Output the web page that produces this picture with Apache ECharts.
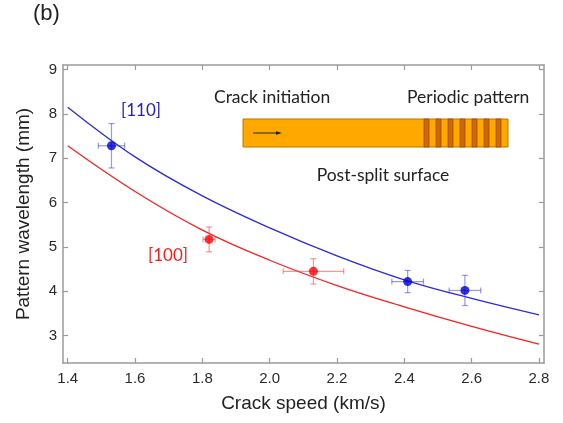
<!DOCTYPE html>
<html>
<head>
<meta charset="utf-8">
<script src="https://cdn.jsdelivr.net/npm/echarts@6/dist/echarts.min.js"></script>
<style>
html,body{margin:0;padding:0;background:#fff;}
#c{width:563px;height:423px;}
</style>
</head>
<body>
<div id="c"></div>
<script>
// ---- data ----
const xTicks = [1.4, 1.6, 1.8, 2.0, 2.2, 2.4, 2.6, 2.8];
const yTicks = [3, 4, 5, 6, 7, 8, 9];

const curveX = [1.4, 1.6, 1.8, 2.0, 2.2, 2.4, 2.6, 2.8];
const blueCurve = [8.15, 7.03, 6.15, 5.43, 4.80, 4.26, 3.84, 3.47];
const redCurve  = [7.28, 6.25, 5.38, 4.70, 4.13, 3.65, 3.21, 2.81];

const blueX    = [1.53, 2.41, 2.58];
const blueY    = [7.28, 4.22, 4.02];
const blueXErr = [0.039, 0.047, 0.047];
const blueYErr = [0.50, 0.25, 0.34];

const redX    = [1.82, 2.13];
const redY    = [5.17, 4.45];
const redXErr = [0.018, 0.090];
const redYErr = [0.28, 0.285];

// ---- build ----
const zip2 = (a, b) => a.map((v, i) => [v, b[i]]);
const zip4 = (a, b, c, d) => a.map((v, i) => [v, b[i], c[i], d[i]]);

function errRender(color) {
  return function (params, api) {
    const x = api.value(0), y = api.value(1), xe = api.value(2), ye = api.value(3);
    const l = api.coord([x - xe, y]), r = api.coord([x + xe, y]);
    const t = api.coord([x, y + ye]), b = api.coord([x, y - ye]);
    const cap = 3;
    const st = { stroke: color, lineWidth: 1.2 };
    const ln = (x1, y1, x2, y2) => ({ type: 'line', shape: { x1, y1, x2, y2 }, style: st });
    return {
      type: 'group',
      children: [
        ln(l[0], l[1], r[0], r[1]),
        ln(t[0], t[1], b[0], b[1]),
        ln(l[0], l[1] - cap, l[0], l[1] + cap),
        ln(r[0], r[1] - cap, r[0], r[1] + cap),
        ln(t[0] - cap, t[1], t[0] + cap, t[1]),
        ln(b[0] - cap, b[1], b[0] + cap, b[1])
      ]
    };
  };
}

const axisColor = '#9a9a9a';
const labelColor = '#2a2a2a';
const FONT = 'Liberation Sans, Arial, sans-serif';
const INSET_FONT = 'Lato, "Open Sans", sans-serif';

const xMin = 1.386, xMax = 2.815, yMin = 2.385, yMax = 9.1;

const baseX = {
  type: 'value', min: xMin, max: xMax,
  axisLine: { show: true, onZero: false, lineStyle: { color: axisColor, width: 1.5 } },
  axisTick: { show: true, inside: true, length: 5, customValues: xTicks, lineStyle: { color: axisColor, width: 1.2 } },
  splitLine: { show: false }
};
const baseY = {
  type: 'value', min: yMin, max: yMax,
  axisLine: { show: true, onZero: false, lineStyle: { color: axisColor, width: 1.5 } },
  axisTick: { show: true, inside: true, length: 5, customValues: yTicks, lineStyle: { color: axisColor, width: 1.2 } },
  splitLine: { show: false }
};

// inset graphics
const stripes = [];
for (let i = 0; i < 7; i++) {
  stripes.push({
    type: 'rect', shape: { x: 424 + i * 12, y: 119, width: 5, height: 28 },
    style: { fill: '#cf6800', stroke: '#8f4c00', lineWidth: 0.7 }, z: 101
  });
}

const option = {
  animation: false,
  backgroundColor: '#fff',
  grid: { left: 63, top: 65, right: 19, bottom: 60, containLabel: false },
  xAxis: [
    Object.assign({}, baseX, {
      position: 'bottom',
      name: 'Crack speed (km/s)', nameLocation: 'middle', nameGap: 31,
      nameTextStyle: { fontFamily: FONT, fontSize: 19, color: '#222' },
      axisLabel: { show: true, customValues: xTicks, margin: 8, fontFamily: FONT, fontSize: 15, color: labelColor,
        formatter: v => Number(v).toFixed(1) }
    }),
    Object.assign({}, baseX, { position: 'top', axisLabel: { show: false } })
  ],
  yAxis: [
    Object.assign({}, baseY, {
      position: 'left',
      name: 'Pattern wavelength (mm)', nameLocation: 'middle', nameGap: 30,
      nameTextStyle: { fontFamily: FONT, fontSize: 19, color: '#222' },
      axisLabel: { show: true, customValues: yTicks, margin: 6, fontFamily: FONT, fontSize: 15, color: labelColor,
        formatter: v => String(Math.round(v)) }
    }),
    Object.assign({}, baseY, { position: 'right', axisLabel: { show: false } })
  ],
  series: [
    { type: 'line', data: zip2(curveX, blueCurve), smooth: 0.4, symbol: 'none',
      lineStyle: { color: '#2b2be0', width: 1.3 }, z: 2 },
    { type: 'line', data: zip2(curveX, redCurve), smooth: 0.4, symbol: 'none',
      lineStyle: { color: '#ff2020', width: 1.3 }, z: 2 },
    { type: 'custom', data: zip4(blueX, blueY, blueXErr, blueYErr), renderItem: errRender('rgba(50,50,235,0.5)'), z: 3 },
    { type: 'custom', data: zip4(redX, redY, redXErr, redYErr), renderItem: errRender('rgba(255,60,60,0.55)'), z: 3 },
    { type: 'scatter', data: zip2(blueX, blueY), symbol: 'circle', symbolSize: 9,
      itemStyle: { color: '#0000cc' }, z: 4 },
    { type: 'scatter', data: zip2(redX, redY), symbol: 'circle', symbolSize: 9,
      itemStyle: { color: '#ff0000' }, z: 4 }
  ],
  graphic: [
    { type: 'text', left: 33, top: 3, style: { text: '(b)', fontFamily: FONT, fontSize: 22, fill: '#222' } },
    { type: 'text', x: 121, y: 111, style: { text: '[110]', fontFamily: INSET_FONT, fontSize: 17, fill: '#2020c8', verticalAlign: 'middle' } },
    { type: 'text', x: 148, y: 256, style: { text: '[100]', fontFamily: INSET_FONT, fontSize: 17, fill: '#ff1a1a', verticalAlign: 'middle' } },
    { type: 'text', x: 214, y: 97, style: { text: 'Crack initiation', fontFamily: INSET_FONT, fontSize: 17.5, fill: '#222', verticalAlign: 'middle' } },
    { type: 'text', x: 407, y: 97, style: { text: 'Periodic pattern', fontFamily: INSET_FONT, fontSize: 17.5, fill: '#222', verticalAlign: 'middle' } },
    { type: 'text', x: 383, y: 175, style: { text: 'Post-split surface', fontFamily: INSET_FONT, fontSize: 17.5, fill: '#222', align: 'center', verticalAlign: 'middle' } },
    { type: 'rect', shape: { x: 243, y: 119, width: 265, height: 28 }, style: { fill: '#ffa800', stroke: '#b87800', lineWidth: 1 }, z: 100 },
    ...stripes,
    { type: 'line', shape: { x1: 253, y1: 133, x2: 277, y2: 133 }, style: { stroke: '#222', lineWidth: 1 }, z: 102 },
    { type: 'polygon', shape: { points: [[276, 131.2], [282, 133], [276, 134.8]] }, style: { fill: '#222' }, z: 102 }
  ]
};

const chart = echarts.init(document.getElementById('c'), null, { renderer: 'canvas' });
chart.setOption(option);
</script>
</body>
</html>
